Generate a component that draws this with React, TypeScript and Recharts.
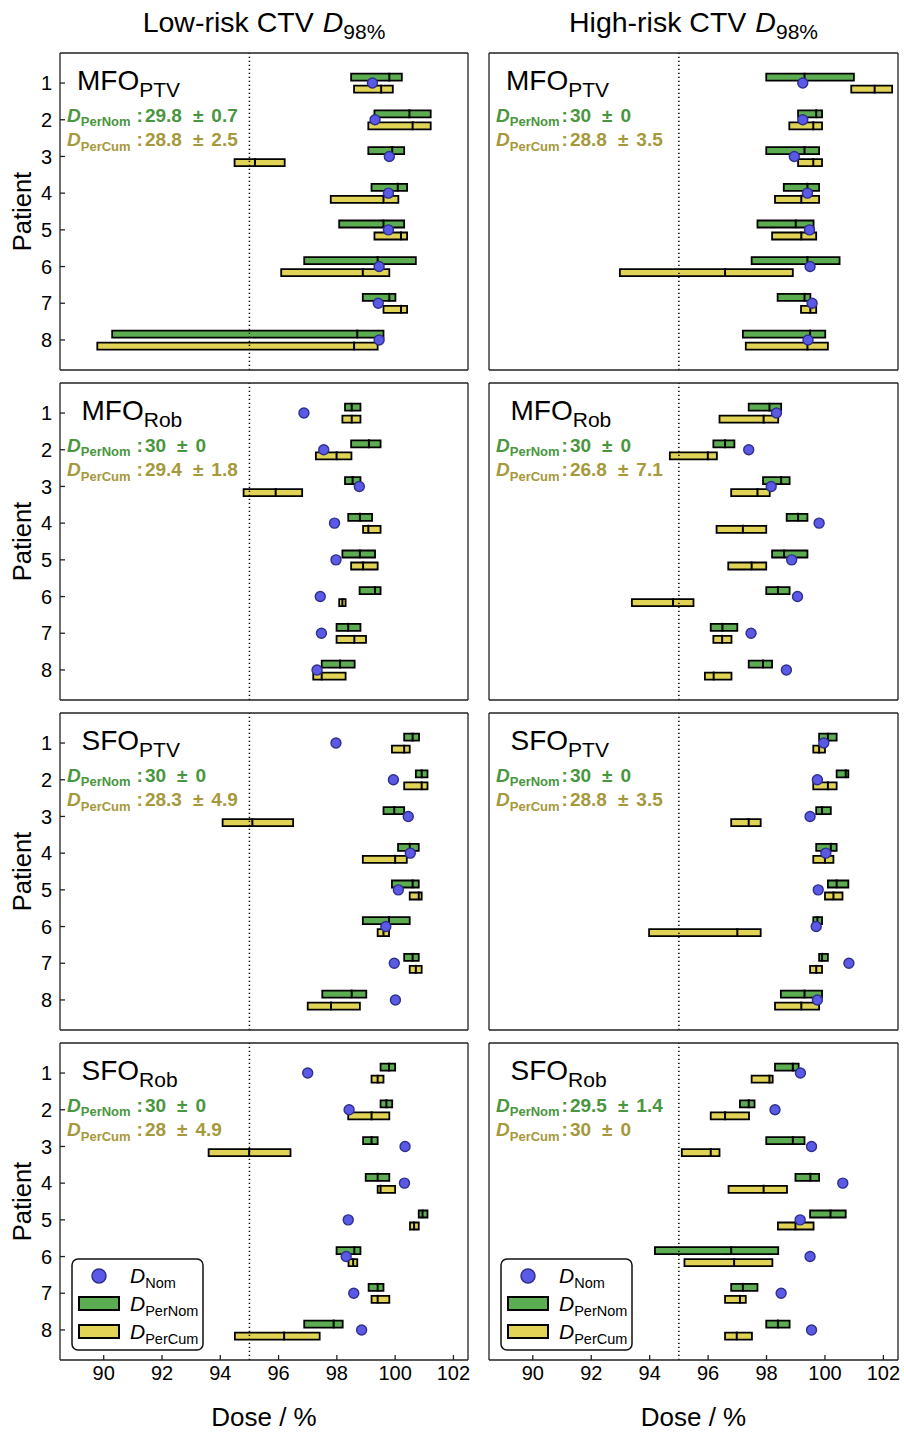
import React from "react";
import { ComposedChart, Bar, Line, XAxis, YAxis, ReferenceLine } from "recharts";

const FONT = '"Liberation Sans", Arial, Helvetica, sans-serif';
const GREEN = "#5cad52";
const YELLOW = "#e1d356";
const GREEN_TXT = "#4a9640";
const OLIVE_TXT = "#a6993c";
const DOT = "#5a5ae6";
const DOT_EDGE = "#30308c";

const patients = [1, 2, 3, 4, 5, 6, 7, 8];
const doseTicks = [90, 92, 94, 96, 98, 100, 102];
const columnTitles = ["Low-risk CTV", "High-risk CTV"];

// each range: [min, median, max] in % of prescribed dose
type Range = [number, number, number];

const lowMfoPtvNom = [99.22, 99.31, 99.8, 99.77, 99.77, 99.45, 99.42, 99.45];
const lowMfoPtvPerNom: Range[] = [[98.49, 99.8, 100.23], [99.29, 100.49, 101.22], [99.08, 99.9, 100.31], [99.19, 100.09, 100.41], [98.08, 99.6, 100.31], [96.88, 99.4, 100.71], [98.89, 99.8, 100.01], [90.29, 98.7, 99.6]];
const lowMfoPtvPerCum: Range[] = [[98.59, 99.52, 99.92], [99.08, 100.6, 101.22], [94.49, 95.19, 96.21], [97.79, 99.6, 100.11], [99.29, 100.2, 100.41], [96.09, 98.89, 99.8], [99.6, 100.2, 100.41], [89.78, 98.59, 99.4]];

const highMfoPtvNom = [99.24, 99.24, 98.95, 99.4, 99.47, 99.49, 99.56, 99.42];
const highMfoPtvPerNom: Range[] = [[97.99, 99.3, 100.99], [99.08, 99.7, 99.9], [97.99, 99.3, 99.8], [98.59, 99.4, 99.8], [97.69, 99.0, 99.61], [97.49, 99.4, 100.5], [98.38, 99.3, 99.5], [97.19, 99.49, 100.01]];
const highMfoPtvPerCum: Range[] = [[100.9, 101.7, 102.3], [98.78, 99.6, 99.9], [99.08, 99.6, 99.9], [98.29, 99.19, 99.8], [98.19, 99.19, 99.7], [92.98, 96.58, 98.9], [99.18, 99.5, 99.7], [97.29, 99.4, 100.1]];

const lowMfoRobNom = [96.87, 97.55, 98.77, 97.92, 97.97, 97.43, 97.47, 97.32];
const lowMfoRobPerNom: Range[] = [[98.28, 98.51, 98.81], [98.49, 99.1, 99.5], [98.28, 98.54, 98.81], [98.39, 98.79, 99.21], [98.19, 98.79, 99.31], [98.78, 99.31, 99.5], [97.99, 98.39, 98.81], [97.48, 98.11, 98.61]];
const lowMfoRobPerCum: Range[] = [[98.19, 98.51, 98.81], [97.28, 97.99, 98.5], [94.8, 95.9, 96.81], [98.9, 99.08, 99.5], [98.49, 98.9, 99.4], [98.08, 98.19, 98.3], [97.99, 98.6, 99.0], [97.19, 97.48, 98.3]];

const highMfoRobNom = [98.34, 97.39, 98.16, 99.8, 98.86, 99.06, 97.47, 98.68];
const highMfoRobPerNom: Range[] = [[97.39, 98.1, 98.5], [96.18, 96.58, 96.9], [97.88, 98.5, 98.79], [98.69, 99.08, 99.4], [98.19, 98.6, 99.4], [97.99, 98.39, 98.79], [96.09, 96.49, 97.0], [97.39, 97.88, 98.19]];
const highMfoRobPerCum: Range[] = [[96.39, 97.9, 98.4], [94.69, 95.99, 96.3], [96.79, 97.69, 98.11], [96.29, 97.19, 97.99], [96.69, 97.49, 97.99], [93.39, 94.8, 95.5], [96.18, 96.48, 96.8], [95.89, 96.19, 96.8]];

const lowSfoPtvNom = [97.97, 99.94, 100.45, 100.52, 100.11, 99.68, 99.97, 100.01];
const lowSfoPtvPerNom: Range[] = [[100.31, 100.6, 100.82], [100.71, 100.91, 101.11], [99.6, 99.97, 100.31], [100.1, 100.5, 100.81], [99.89, 100.6, 100.81], [98.89, 99.79, 100.5], [100.31, 100.6, 100.81], [97.5, 98.51, 99.01]];
const lowSfoPtvPerCum: Range[] = [[99.89, 100.31, 100.5], [100.31, 100.91, 101.11], [94.08, 95.1, 96.5], [98.89, 100.0, 100.4], [100.5, 100.81, 100.91], [99.4, 99.6, 99.79], [100.5, 100.71, 100.91], [97.0, 97.8, 98.79]];

const highSfoPtvNom = [99.96, 99.74, 99.49, 100.03, 99.77, 99.7, 100.82, 99.74];
const highSfoPtvPerNom: Range[] = [[99.8, 100.1, 100.4], [100.4, 100.71, 100.8], [99.7, 99.9, 100.2], [99.7, 100.2, 100.4], [100.1, 100.4, 100.8], [99.6, 99.74, 99.9], [99.8, 99.9, 100.1], [98.49, 99.3, 99.9]];
const highSfoPtvPerCum: Range[] = [[99.6, 99.8, 100.0], [99.6, 100.1, 100.4], [96.79, 97.39, 97.8], [99.6, 100.0, 100.29], [100.0, 100.29, 100.6], [93.98, 97.0, 97.8], [99.49, 99.7, 99.9], [98.29, 99.19, 99.8]];

const lowSfoRobNom = [97.0, 98.42, 100.34, 100.32, 98.39, 98.32, 98.58, 98.85];
const lowSfoRobPerNom: Range[] = [[99.5, 99.79, 100.0], [99.5, 99.7, 99.9], [98.9, 99.19, 99.4], [98.99, 99.4, 99.8], [100.81, 100.94, 101.11], [97.99, 98.6, 98.81], [99.09, 99.4, 99.6], [96.88, 97.89, 98.2]];
const lowSfoRobPerCum: Range[] = [[99.19, 99.4, 99.6], [98.39, 99.19, 99.8], [93.6, 94.99, 96.41], [99.4, 99.5, 100.0], [100.51, 100.65, 100.81], [98.4, 98.56, 98.7], [99.19, 99.4, 99.8], [94.5, 96.19, 97.41]];

const highSfoRobNom = [99.16, 98.29, 99.54, 100.61, 99.15, 99.49, 98.5, 99.54];
const highSfoRobPerNom: Range[] = [[98.29, 98.9, 99.1], [97.09, 97.39, 97.59], [97.99, 98.9, 99.3], [98.99, 99.5, 99.8], [99.49, 100.19, 100.71], [94.18, 96.79, 98.4], [96.79, 97.19, 97.69], [97.99, 98.39, 98.79]];
const highSfoRobPerCum: Range[] = [[97.49, 98.1, 98.21], [96.09, 96.58, 97.4], [95.1, 96.09, 96.39], [96.7, 97.9, 98.7], [98.39, 98.99, 99.61], [95.19, 96.89, 98.2], [96.58, 97.09, 97.29], [96.58, 96.98, 97.5]];

// mean ± sd strings printed in each panel
const perNomStats = [["29.8", "0.7"], ["30", "0"], ["30", "0"], ["30", "0"], ["30", "0"], ["30", "0"], ["30", "0"], ["29.5", "1.4"]];
const perCumStats = [["28.8", "2.5"], ["28.8", "3.5"], ["29.4", "1.8"], ["26.8", "7.1"], ["28.3", "4.9"], ["28.8", "3.5"], ["28", "4.9"], ["30", "0"]];

const panels = [
  { plan: "MFO", sub: "PTV", nom: lowMfoPtvNom, perNom: lowMfoPtvPerNom, perCum: lowMfoPtvPerCum },
  { plan: "MFO", sub: "PTV", nom: highMfoPtvNom, perNom: highMfoPtvPerNom, perCum: highMfoPtvPerCum },
  { plan: "MFO", sub: "Rob", nom: lowMfoRobNom, perNom: lowMfoRobPerNom, perCum: lowMfoRobPerCum },
  { plan: "MFO", sub: "Rob", nom: highMfoRobNom, perNom: highMfoRobPerNom, perCum: highMfoRobPerCum },
  { plan: "SFO", sub: "PTV", nom: lowSfoPtvNom, perNom: lowSfoPtvPerNom, perCum: lowSfoPtvPerCum },
  { plan: "SFO", sub: "PTV", nom: highSfoPtvNom, perNom: highSfoPtvPerNom, perCum: highSfoPtvPerCum },
  { plan: "SFO", sub: "Rob", nom: lowSfoRobNom, perNom: lowSfoRobPerNom, perCum: lowSfoRobPerCum },
  { plan: "SFO", sub: "Rob", nom: highSfoRobNom, perNom: highSfoRobPerNom, perCum: highSfoRobPerCum },
];

const PLOT_H = 317;
const plotLeftOf = (col: number) => (col === 0 ? 60 : 489);
const plotWOf = (col: number) => (col === 0 ? 408 : 409);
const plotTopOf = (row: number) => 53 + row * 330;

const medianTick = (off: number) => (props: any) => {
  const { cx, cy, index } = props;
  if (cx == null || cy == null) return <g key={index} />;
  return <line key={index} x1={cx} x2={cx} y1={cy + off - 4.4} y2={cy + off + 4.4} stroke="#000" strokeWidth={2} />;
};

const nomDot = (props: any) => {
  const { cx, cy, index } = props;
  if (cx == null || cy == null) return <g key={index} />;
  return <circle key={index} cx={cx} cy={cy} r={5} fill={DOT} stroke={DOT_EDGE} strokeWidth={1.4} />;
};

function Panel({ idx }: { idx: number }) {
  const p = panels[idx];
  const col = idx % 2;
  const row = Math.floor(idx / 2);
  const leftW = col === 0 ? 60 : 2;
  const topH = 2;
  const rightW = 2;
  const bottomH = row === 3 ? 40 : 2;
  const plotW = plotWOf(col);
  const data = patients.map((pt, i) => ({
    patient: pt,
    nom: p.nom[i],
    perNom: [p.perNom[i][0], p.perNom[i][2]],
    perNomMed: p.perNom[i][1],
    perCum: [p.perCum[i][0], p.perCum[i][2]],
    perCumMed: p.perCum[i][1],
  }));
  const frame = { stroke: "#222", strokeWidth: 1.3 };
  const tickStyle = { fontSize: 20, fill: "#000", fontFamily: FONT };
  return (
    <div style={{ position: "absolute", left: plotLeftOf(col) - leftW, top: plotTopOf(row) - topH }}>
      <ComposedChart
        layout="vertical"
        width={leftW + plotW + rightW}
        height={topH + PLOT_H + bottomH}
        data={data}
        margin={{ top: 0, right: 0, bottom: 0, left: 0 }}
        barSize={7}
        barGap={5}
      >
        <XAxis xAxisId="b" type="number" orientation="bottom" domain={[88.5, 102.5]} allowDataOverflow ticks={doseTicks} interval={0}
          height={bottomH} tickSize={-5} tickMargin={11} tick={row === 3 ? tickStyle : false} axisLine={frame} tickLine={frame} />
        <XAxis xAxisId="t" type="number" orientation="top" domain={[88.5, 102.5]} allowDataOverflow ticks={doseTicks} interval={0}
          height={topH} tickSize={-5} tick={false} axisLine={frame} tickLine={frame} />
        <YAxis yAxisId="l" type="category" dataKey="patient" orientation="left" width={leftW} padding={{ top: 11.7, bottom: 11.7 }} interval={0}
          tickSize={-5} tickMargin={13} tick={col === 0 ? tickStyle : false} axisLine={frame} tickLine={frame} />
        <YAxis yAxisId="r" type="category" dataKey="patient" orientation="right" width={rightW} padding={{ top: 11.7, bottom: 11.7 }} interval={0}
          tickSize={-5} tick={false} axisLine={frame} tickLine={frame} />
        <ReferenceLine xAxisId="b" yAxisId="l" x={95} stroke="#000" strokeWidth={1.5} strokeDasharray="1.3 2.7" />
        <Bar xAxisId="b" yAxisId="l" dataKey="perNom" fill={GREEN} stroke="#000" strokeWidth={1.8} isAnimationActive={false} />
        <Bar xAxisId="b" yAxisId="l" dataKey="perCum" fill={YELLOW} stroke="#000" strokeWidth={1.8} isAnimationActive={false} />
        <Line xAxisId="b" yAxisId="l" dataKey="perNomMed" stroke="none" dot={medianTick(-6)} activeDot={false} isAnimationActive={false} />
        <Line xAxisId="b" yAxisId="l" dataKey="perCumMed" stroke="none" dot={medianTick(6)} activeDot={false} isAnimationActive={false} />
        <Line xAxisId="b" yAxisId="l" dataKey="nom" stroke="none" dot={nomDot} activeDot={false} isAnimationActive={false} />
      </ComposedChart>
    </div>
  );
}

function PanelText({ idx }: { idx: number }) {
  const p = panels[idx];
  const col = idx % 2;
  const row = Math.floor(idx / 2);
  const x0 = plotLeftOf(col);
  const y0 = plotTopOf(row);
  const labelX = p.plan === "MFO" && p.sub === "PTV" ? 17 : 21.5;
  const statLine = (y: number, sub: string, color: string, stat: string[]) => (
    <text x={x0 + 7} y={y0 + y} fill={color} fontWeight="bold" fontSize={19}>
      <tspan fontStyle="italic">D</tspan>
      <tspan fontSize={13} dy={4.5}>{sub}</tspan>
      <tspan dy={-4.5} dx={col === 0 ? 6 : 2}>:</tspan>
      <tspan dx={2}>{stat[0]}</tspan>
      <tspan dx={11}>±</tspan>
      <tspan dx={8}>{stat[1]}</tspan>
    </text>
  );
  return (
    <g>
      <text x={x0 + labelX} y={y0 + 37} fontSize={28}>
        {p.plan}
        <tspan fontSize={21} dy={7}>{p.sub}</tspan>
      </text>
      {statLine(68.5, "PerNom", GREEN_TXT, perNomStats[idx])}
      {statLine(93.4, "PerCum", OLIVE_TXT, perCumStats[idx])}
      {row === 3 && (
        <g>
          <rect x={x0 + 12} y={y0 + 216} width={131} height={91} rx={6} fill="#fff" stroke="#111" strokeWidth={1.5} />
          <circle cx={x0 + 39} cy={y0 + 233} r={7} fill={DOT} stroke={DOT_EDGE} strokeWidth={1.5} />
          <rect x={x0 + 19} y={y0 + 254} width={40} height={13} fill={GREEN} stroke="#000" strokeWidth={2} />
          <rect x={x0 + 19} y={y0 + 282} width={40} height={13} fill={YELLOW} stroke="#000" strokeWidth={2} />
          {[["Nom", 240], ["PerNom", 268], ["PerCum", 295.7]].map(([s, yy]) => (
            <text key={s as string} x={x0 + 70} y={y0 + (yy as number)} fontSize={21}>
              <tspan fontStyle="italic">D</tspan>
              <tspan fontSize={14.5} dy={5}>{s}</tspan>
            </text>
          ))}
        </g>
      )}
    </g>
  );
}

export default function App() {
  return (
    <div style={{ position: "absolute", left: 0, top: 0, width: 904, height: 1432, background: "#fff", fontFamily: FONT }}>
      {panels.map((_, i) => (
        <Panel key={i} idx={i} />
      ))}
      <svg width={904} height={1432} style={{ position: "absolute", left: 0, top: 0, pointerEvents: "none", fontFamily: FONT }}>
        {columnTitles.map((t, c) => (
          <text key={t} x={plotLeftOf(c) + plotWOf(c) / 2} y={32} textAnchor="middle" fontSize={28.5}>
            {t}
            <tspan fontStyle="italic" dx={9}>D</tspan>
            <tspan fontSize={21} dy={7}>98%</tspan>
          </text>
        ))}
        {[0, 1, 2, 3].map((r) => (
          <text key={r} transform={`translate(31, ${plotTopOf(r) + PLOT_H / 2}) rotate(-90)`} textAnchor="middle" fontSize={25.5}>
            Patient
          </text>
        ))}
        {[0, 1].map((c) => (
          <text key={c} x={plotLeftOf(c) + plotWOf(c) / 2} y={1426} textAnchor="middle" fontSize={26}>
            Dose / %
          </text>
        ))}
        {panels.map((_, i) => (
          <PanelText key={i} idx={i} />
        ))}
      </svg>
    </div>
  );
}
